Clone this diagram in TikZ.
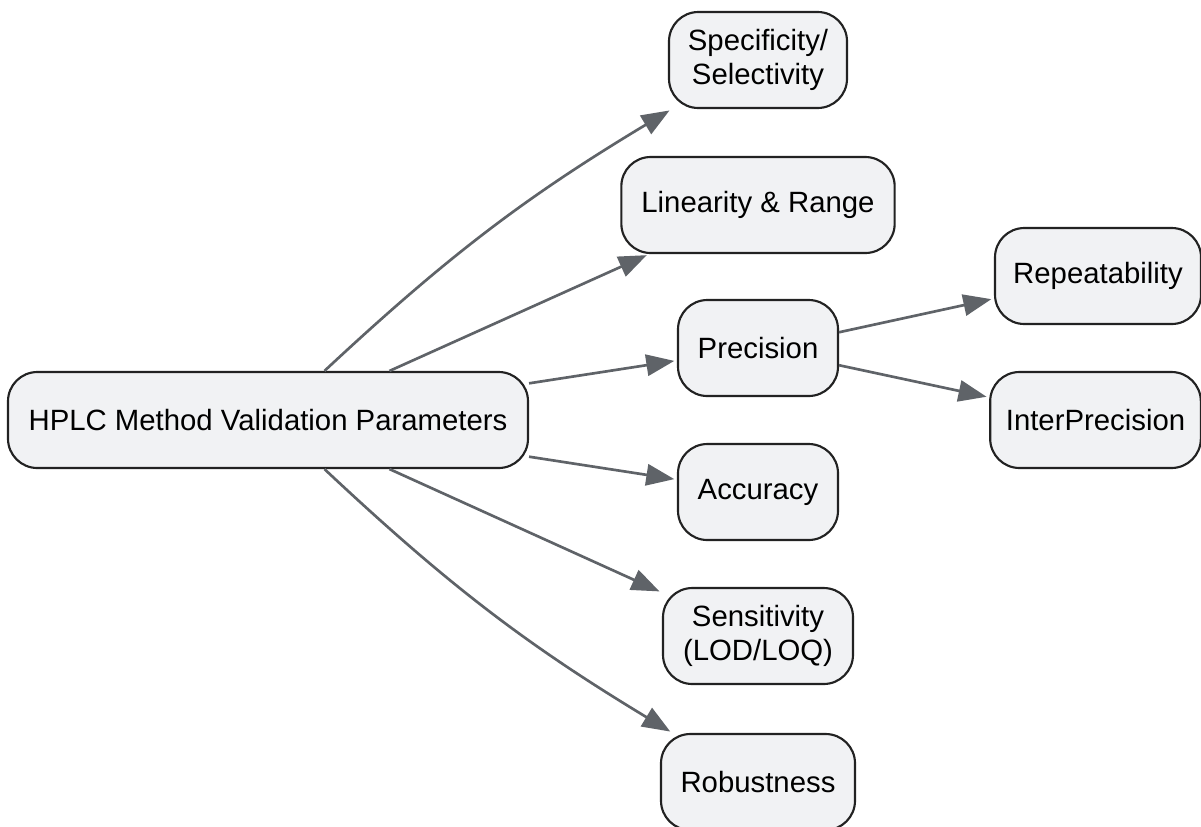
\documentclass[tikz,border=0pt]{standalone}
\usepackage{fontspec}
\setmainfont{Liberation Sans}
\usetikzlibrary{arrows.meta}
\definecolor{boxfill}{HTML}{F1F2F4}
\definecolor{boxline}{HTML}{222222}
\definecolor{edgegray}{HTML}{5F6368}

\begin{document}
\begin{tikzpicture}[x=0.75pt, y=-0.75pt,
    box/.style={draw=boxline, line width=1.6pt, fill=boxfill, rounded corners=22pt,
        minimum height=72pt, align=center, inner sep=0pt, font=\fontsize{22}{25}\selectfont},
    edge/.style={draw=edgegray, line width=2pt, -{Triangle[length=21pt, width=16pt]}, shorten >=2pt}]
    \useasboundingbox (0,0) rectangle (1201,826);

    % Root node
    \node[box, minimum width=390pt] (root) at (268,420) {HPLC Method Validation Parameters};

    % Validation parameters
    \node[box, minimum width=133.5pt] (spec) at (758,60) {Specificity/\\Selectivity};
    \node[box, minimum width=205pt] (lin) at (758,205) {Linearity \& Range};
    \node[box, minimum width=120pt] (prec) at (758,348) {Precision};
    \node[box, minimum width=120pt] (acc) at (758,492) {Accuracy};
    \node[box, minimum width=142.5pt] (sens) at (758,636) {Sensitivity\\(LOD/LOQ)};
    \node[box, minimum width=145.5pt] (rob) at (758,782) {Robustness};

    % Precision levels
    \node[box, minimum width=154.5pt] (rep) at (1098,276) {Repeatability};
    \node[box, minimum width=158pt] (inter) at (1095.5,420) {InterPrecision};

    % Connect root to parameters
    \draw[edge] (root.41) to[bend left=6] (spec);
    \draw[edge] (root.22.8) -- (lin);
    \draw[edge] (root.8.7) -- (prec);
    \draw[edge] (root.-8.7) -- (acc);
    \draw[edge] (root.-22.8) -- (sens);
    \draw[edge] (root.-41) to[bend right=6] (rob);

    % Connect precision to its levels
    \draw[edge] (prec.11) -- (rep);
    \draw[edge] (prec.-12.4) -- (inter);
\end{tikzpicture}
\end{document}
